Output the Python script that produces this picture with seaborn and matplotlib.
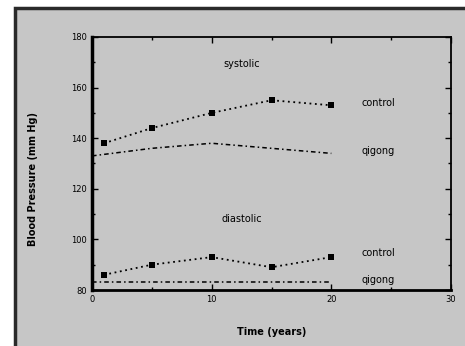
import matplotlib
matplotlib.use("Agg")
import matplotlib.pyplot as plt
from matplotlib.patches import Rectangle
from matplotlib.ticker import MultipleLocator
import seaborn as sns
import pandas as pd

# systolic readings
sys_years = [1, 5, 10, 15, 20]
sys_control = [138, 144, 150, 155, 153]
sys_qig_years = [0, 5, 10, 15, 20]
sys_qigong = [133, 136, 138, 136, 134]

# diastolic readings
dia_years = [1, 5, 10, 15, 20]
dia_control = [86, 90, 93, 89, 93]
dia_qig_years = [0, 5, 10, 15, 20]
dia_qigong = [83, 83, 83, 83, 83]

rows = []
for x, y in zip(sys_years, sys_control):
    rows.append(("sys_control", "control", x, y))
for x, y in zip(sys_qig_years, sys_qigong):
    rows.append(("sys_qigong", "qigong", x, y))
for x, y in zip(dia_years, dia_control):
    rows.append(("dia_control", "control", x, y))
for x, y in zip(dia_qig_years, dia_qigong):
    rows.append(("dia_qigong", "qigong", x, y))
df = pd.DataFrame(rows, columns=["series", "group", "years", "bp"])

bg = "#c6c6c6"
sns.set_theme(style="ticks")
plt.rcParams["font.family"] = ["DejaVu Sans"]
plt.rcParams["text.color"] = "black"
plt.rcParams["axes.labelcolor"] = "black"
plt.rcParams["xtick.color"] = "black"
plt.rcParams["ytick.color"] = "black"

fig = plt.figure(figsize=(4.65, 3.46), dpi=100, facecolor="white")
fig.patches.append(Rectangle((15 / 465, -0.1), 1.2, 1 - 8 / 346 + 0.1,
                             transform=fig.transFigure, facecolor=bg,
                             edgecolor="#2a2a2a", linewidth=2.5, zorder=-1))
ax = fig.add_axes([92 / 465, 1 - 290 / 346, 359 / 465, 253 / 346])
ax.set_facecolor(bg)

ctrl = df[df["group"] == "control"]
qig = df[df["group"] == "qigong"]
sns.lineplot(data=ctrl, x="years", y="bp", units="series", estimator=None,
             color="black", linewidth=1.3, linestyle=(0, (1, 2)),
             marker="s", markersize=5, markeredgewidth=0, ax=ax)
sns.lineplot(data=qig, x="years", y="bp", units="series", estimator=None,
             color="black", linewidth=1.1, linestyle=(0, (3, 2, 1, 2)), ax=ax)

ax.set_xlim(0, 30)
ax.set_ylim(80, 180)
ax.xaxis.set_major_locator(MultipleLocator(10))
ax.xaxis.set_minor_locator(MultipleLocator(5))
ax.yaxis.set_major_locator(MultipleLocator(20))
ax.yaxis.set_minor_locator(MultipleLocator(10))
ax.tick_params(which="both", direction="in", top=True, right=True,
               labelsize=6, color="black", width=1)
ax.tick_params(which="major", length=4)
ax.tick_params(which="minor", length=2.5)
for side in ["top", "right"]:
    ax.spines[side].set_linewidth(1.3)
ax.spines["left"].set_linewidth(2.5)
ax.spines["bottom"].set_linewidth(2)
for s in ax.spines.values():
    s.set_color("black")

ax.set_xlabel("Time (years)", fontsize=7, fontweight="bold")
ax.set_ylabel("Blood Pressure (mm Hg)", fontsize=7, fontweight="bold")
ax.xaxis.set_label_coords(0.5, -0.145)
ax.yaxis.set_label_coords(-0.15, 0.44)

ax.text(12.5, 169.5, "systolic", fontsize=7, ha="center", va="center")
ax.text(12.5, 108, "diastolic", fontsize=7, ha="center", va="center")
ax.text(22.5, 154, "control", fontsize=7, va="center")
ax.text(22.5, 135, "qigong", fontsize=7, va="center")
ax.text(22.5, 94.5, "control", fontsize=7, va="center")
ax.text(22.5, 84, "qigong", fontsize=7, va="center")

fig.savefig("out.png", dpi=100, facecolor=fig.get_facecolor())
